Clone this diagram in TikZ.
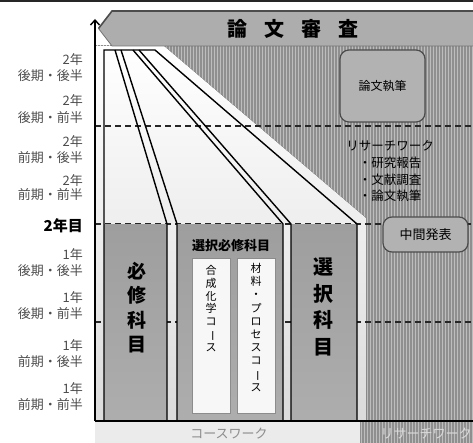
\documentclass[tikz,border=0pt]{standalone}
\usepackage{fontspec}
\setmainfont{Noto Sans CJK JP}
\usetikzlibrary{patterns.meta,arrows.meta}
\definecolor{stripebg}{gray}{0.74}
\definecolor{stripeln}{gray}{0.56}
\definecolor{bannerfill}{gray}{0.68}
\definecolor{boxfill}{gray}{0.70}
\definecolor{lbl}{gray}{0.30}
\definecolor{foot}{gray}{0.55}
\definecolor{footlight}{gray}{0.86}
\tikzset{
  lab/.style={font=\fontsize{13}{14}\selectfont, text=lbl, inner sep=0pt, anchor=east},
  guide/.style={dash pattern=on 6pt off 4pt, line width=1.1pt, draw=black!85},
  edge/.style={line width=1.4pt, draw=black, line join=miter},
  stripes/.style={pattern={Lines[angle=90,distance=3pt,line width=1.3pt]}, pattern color=stripeln},
  rbox/.style={draw=black!70, line width=1.2pt, rounded corners=9pt, fill=boxfill, inner sep=0pt},
  colfill/.style={top color=black!38, bottom color=black!32},
  course/.style={fill=black!3, draw=black!45, line width=0.6pt},
  vsmall/.style={align=center, inner sep=0pt, font=\fontsize{11}{12.9}\selectfont},
  vbig/.style={align=center, inner sep=0pt, font=\bfseries\fontsize{19}{24.5}\selectfont},
  txt/.style={inner sep=0pt, font=\fontsize{12.5}{14}\selectfont},
}
\newcommand{\vbar}{\rotatebox[origin=c]{-90}{ー}}
\begin{document}
\begin{tikzpicture}[x=1pt,y=-1pt]
\useasboundingbox (0,0) rectangle (473,443);
% top rule
\fill[black!85] (0,0) rectangle (473,2);
% striped research background
\fill[stripebg] (95,46) rectangle (473,443);
\fill[stripes] (95,46) rectangle (473,443);
% coursework light region
\fill[top color=white, bottom color=black!14] (95,46) -- (164,46) -- (366,218) -- (366,421) -- (95,421) -- cycle;
% bottom coursework band
\fill[black!8] (95,421) rectangle (360,443);
% dashed guides
\draw[guide] (95,126) -- (473,126);
\draw[guide] (95,224) -- (473,224);
\draw[guide] (95,322) -- (473,322);
% column fills
\fill[colfill] (104,225) rectangle (167,421);
\fill[colfill] (177,225) rectangle (283,421);
\fill[colfill] (291,225) rectangle (357,421);
% outlines
\draw[edge] (104,421) -- (104,50) -- (155,50) -- (357,224) -- (357,421);
\draw[edge] (115,50) -- (167,224) -- (167,421);
\draw[edge] (121,50) -- (177,224) -- (177,421);
\draw[edge] (133,50) -- (283,224) -- (283,421);
\draw[edge] (139,50) -- (291,224) -- (291,421);
\draw[edge] (95,421) -- (473,421);
% course boxes
\draw[course] (192,258) rectangle (230,413);
\draw[course] (237,258) rectangle (275,413);
% banner
\fill[bannerfill] (112,11) -- (473,11) -- (473,46) -- (112,46) -- (98.5,28.5) -- cycle;
\draw[black!55, line width=0.8pt] (98.5,28.5) -- (112,46) -- (473,46);
\draw[black!70, line width=1.6pt] (98.5,28.5) -- (112,11) -- (473,11);
\node[inner sep=0pt, font=\bfseries\fontsize{20}{22}\selectfont] (title) at (292.5,28.5) {論\hspace{17pt}文\hspace{17pt}審\hspace{17pt}査};
% axis
\coordinate (axisbot) at (95,421);
\coordinate (axistop) at (95,19);
\draw[line width=1.4pt, -{Straight Barb[length=5pt,width=9pt]}] (axisbot) -- (axistop);
% left labels
\node[lab] (a1) at (83,60) {2年};
\node[lab] (a2) at (83,76) {後期・後半};
\node[lab] (b1) at (83,101) {2年};
\node[lab] (b2) at (83,118) {後期・前半};
\node[lab] (c1) at (83,142) {2年};
\node[lab] (c2) at (83,158) {前期・後半};
\node[lab] (d1) at (83,181) {2年};
\node[lab] (d2) at (83,195) {前期・前半};
\node[lab, text=black, font=\bfseries\fontsize{15}{16}\selectfont] (year2) at (83,226) {2年目};
\node[lab] (e1) at (83,255) {1年};
\node[lab] (e2) at (83,271) {後期・後半};
\node[lab] (f1) at (83,298) {1年};
\node[lab] (f2) at (83,314) {後期・前半};
\node[lab] (g1) at (83,346) {1年};
\node[lab] (g2) at (83,362) {前期・後半};
\node[lab] (h1) at (83,389) {1年};
\node[lab] (h2) at (83,405) {前期・前半};
% column texts
\node[vbig] (hisshu) at (137,307.5) {必\\修\\科\\目};
\node[vbig, font=\bfseries\fontsize{20}{26.7}\selectfont] (sentaku) at (323,307) {選\\択\\科\\目};
\node[txt, font=\bfseries\fontsize{13}{14}\selectfont] (senhis) at (231,246) {選択必修科目};
\node[vsmall] (gosei) at (211,308.5) {合\\成\\化\\学\\コ\\\vbar\\ス};
\node[vsmall, font=\fontsize{11}{13.2}\selectfont] (zairyo) at (256,327.5) {材\\料\\・\\プ\\ロ\\セ\\ス\\コ\\\vbar\\ス};
% research area
\node[rbox, minimum width=85pt, minimum height=72pt, font=\fontsize{12}{13}\selectfont] (shippitsu) at (382.5,86) {論文執筆};
\node[txt] (rw) at (390,146) {リサーチワーク};
\node[txt] (r1) at (390,163) {・研究報告};
\node[txt] (r2) at (390,180) {・文献調査};
\node[txt] (r3) at (390,196) {・論文執筆};
\node[rbox, minimum width=85pt, minimum height=35pt, font=\fontsize{13}{14}\selectfont] (chukan) at (425.5,234.5) {中間発表};
% footer
\node[txt, text=foot, font=\fontsize{13}{14}\selectfont] (cw) at (229,434) {コースワーク};
\node[txt, text=footlight, font=\fontsize{13}{14}\selectfont] (rwf) at (426,434) {リサーチワーク};
\end{tikzpicture}
\end{document}
